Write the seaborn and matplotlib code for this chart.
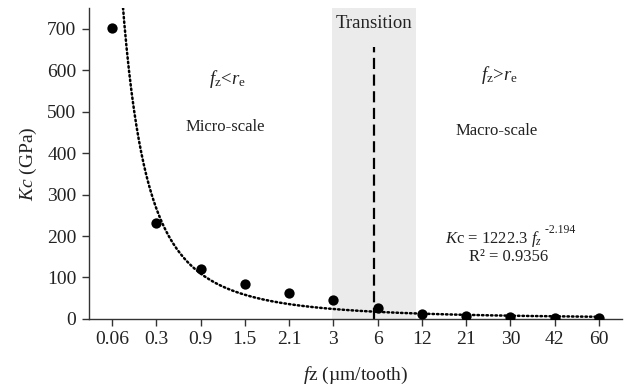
import numpy as np
import pandas as pd
import matplotlib
matplotlib.use("Agg")
import matplotlib.pyplot as plt
import seaborn as sns

# Feed per tooth categories (µm/tooth) and measured cutting stiffness Kc (GPa)
fz_labels = ["0.06", "0.3", "0.9", "1.5", "2.1", "3", "6", "12", "21", "30", "42", "60"]
kc_values = [702, 231, 121, 84, 63, 46, 26, 11, 6.5, 4, 2.5, 2]

# Power trendline fitted over the category index (1..n)
trend_a = 1222.3
trend_b = -2.194
r_squared = 0.9356

sns.set_theme(style="white")
plt.rcParams["font.family"] = ["Liberation Serif", "DejaVu Serif"]
plt.rcParams["mathtext.fontset"] = "custom"
plt.rcParams["mathtext.rm"] = "Liberation Serif"
plt.rcParams["mathtext.it"] = "Liberation Serif:italic"

df = pd.DataFrame({"pos": np.arange(len(fz_labels)), "fz": fz_labels, "kc": kc_values})

fig = plt.figure(figsize=(6.24, 3.88), dpi=100)
ax = fig.add_axes([0.1426, 0.178, 0.854, 0.801])

# transition band and boundary
ax.axvspan(4.97, 6.87, color="#ebebeb", zorder=0, lw=0)
ax.vlines(5.91, 0, 657, colors="black", linestyles=(0, (5, 2.5)), lw=1.6, zorder=2)

# trendline
t = np.linspace(1, len(fz_labels), 400)
trend = pd.DataFrame({"pos": t - 1, "kc": trend_a * t ** trend_b})
sns.lineplot(data=trend, x="pos", y="kc", ax=ax, color="black", lw=1.8,
             linestyle=(0, (0.6, 1.2)), dash_capstyle="round", zorder=3)

sns.scatterplot(data=df, x="pos", y="kc", ax=ax, color="black", s=55,
                edgecolor="black", linewidth=0, zorder=4)

ax.set_xlim(-0.52, len(fz_labels) - 0.48)
ax.set_ylim(0, 750)
ax.set_xticks(df["pos"])
ax.set_xticklabels(fz_labels)
ax.set_yticks(np.arange(0, 701, 100))

for side in ["top", "right"]:
    ax.spines[side].set_visible(False)
for side in ["left", "bottom"]:
    ax.spines[side].set_color("#333333")
    ax.spines[side].set_linewidth(1.0)

ax.tick_params(axis="both", which="major", direction="out", length=5, width=1,
               color="#333333", labelsize=14, labelcolor="#222222", pad=4,
               bottom=True, left=True)

ax.set_xlabel(r"$f$z (µm/tooth)", fontsize=14, color="#222222", labelpad=12)
ax.set_ylabel(r"$Kc$ (GPa)", fontsize=14, color="#222222", labelpad=6)

ax.text(5.91, 712, "Transition", ha="center", va="center", fontsize=13.5, color="#222222")
ax.text(2.6, 580, r"$f_{\mathrm{z}}$<$r_{\mathrm{e}}$", ha="center", va="center",
        fontsize=13.5, color="#222222")
ax.text(8.75, 588, r"$f_{\mathrm{z}}$>$r_{\mathrm{e}}$", ha="center", va="center",
        fontsize=13.5, color="#222222")
ax.text(2.55, 462, "Micro-scale", ha="center", va="center", fontsize=12, color="#222222")
ax.text(8.7, 453, "Macro-scale", ha="center", va="center", fontsize=12, color="#222222")

# trendline equation, exponent set as a small raised label after the base
eq = ax.text(8.62, 194, r"$K$c = %.1f $f_{z}$" % trend_a,
             ha="center", va="center", fontsize=12, color="#222222")
ax.annotate(" %.3f" % trend_b, xy=(1.0, 0.62), xycoords=eq, ha="left", va="bottom",
            fontsize=8.5, color="#222222")
ax.text(8.95, 150, "R² = %.4f" % r_squared, ha="center", va="center",
        fontsize=12, color="#222222")

fig.savefig("out.png", dpi=100)
